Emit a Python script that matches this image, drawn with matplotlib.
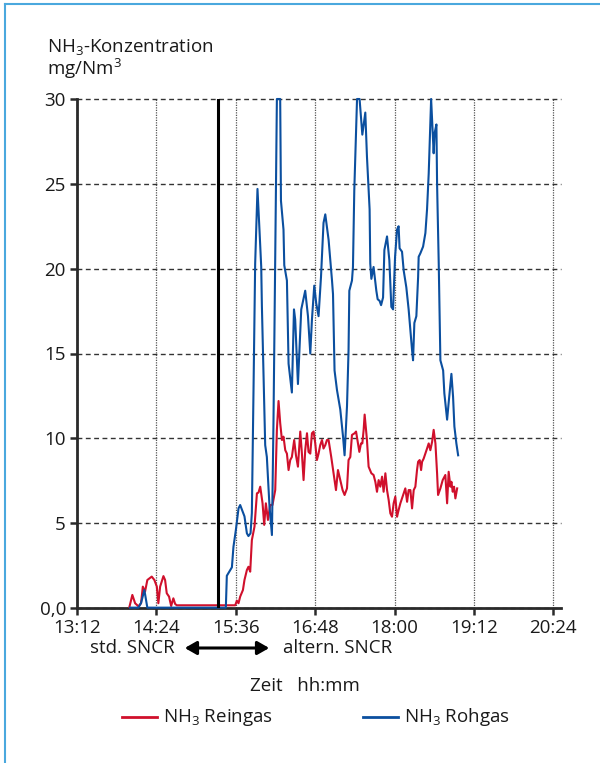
import matplotlib.pyplot as plt
from matplotlib.lines import Line2D
from matplotlib.patches import FancyArrowPatch

plt.rcParams['font.family'] = ['Open Sans', 'DejaVu Sans']
plt.rcParams['mathtext.default'] = 'regular'

# Zeit in Minuten ab 0:00, Konzentration in mg/Nm3
t_rein = [839.5, 842.2, 844.7, 847.7, 850.1, 851.7, 853.7, 855.8, 859.8, 862.2,
          864.4, 865.8, 867.4, 870.4, 871.9, 873.4, 875.5, 877.4, 879.4, 881.0,
          882.5, 935.5, 937.0, 938.5, 940.0, 942.5, 943.9, 946.1, 947.5, 949.1,
          950.6, 953.0, 955.2, 956.6, 958.2, 960.3, 961.8, 963.3, 965.2, 967.2,
          969.3, 971.8, 973.3, 974.8, 976.3, 977.9, 979.3, 980.9, 982.4, 983.9,
          985.4, 986.9, 989.0, 990.6, 992.4, 994.5, 996.0, 997.5, 999.0, 1000.6,
          1002.0, 1003.6, 1005.1, 1006.6, 1008.1, 1009.6, 1011.1, 1012.6, 1014.2, 1015.6,
          1017.2, 1018.7, 1020.2, 1022.6, 1024.7, 1026.9, 1028.7, 1030.8, 1032.9, 1034.7,
          1036.9, 1038.3, 1039.9, 1041.4, 1043.8, 1045.1, 1046.9, 1048.1, 1049.6, 1050.8,
          1052.0, 1052.9, 1055.0, 1056.5, 1059.0, 1061.0, 1062.6, 1064.1, 1065.6, 1067.1,
          1068.7, 1070.1, 1071.7, 1073.2, 1074.7, 1076.2, 1077.7, 1079.2, 1080.7, 1082.3,
          1083.7, 1085.3, 1088.3, 1089.8, 1091.4, 1092.8, 1094.4, 1095.9, 1097.4, 1098.9,
          1100.4, 1101.4, 1102.8, 1104.1, 1105.0, 1106.4, 1108.0, 1109.5, 1111.0, 1112.5,
          1114.1, 1115.5, 1117.1, 1118.6, 1119.5, 1121.6, 1123.7, 1126.1, 1127.7, 1129.1,
          1130.7, 1131.6, 1132.8, 1134.0, 1135.2, 1136.8]
rein = [0.05, 0.77, 0.28, 0.1, 0.28, 1.26, 0.96, 1.65, 1.85, 1.65,
        1.26, 0.28, 1.26, 1.88, 1.65, 0.87, 0.67, 0.12, 0.57, 0.24,
        0.16, 0.16, 0.43, 0.28, 0.67, 1.06, 1.65, 2.24, 2.43, 2.14,
        4.0, 4.8, 6.76, 6.8, 7.15, 6.17, 4.9, 6.17, 5.19, 6.07,
        6.07, 6.95, 10.5, 12.2, 10.9, 9.9, 10.1, 9.3, 9.1, 8.13,
        8.72, 8.9, 9.9, 9.0, 8.33, 10.4, 9.1, 7.54, 9.3, 10.3,
        9.2, 9.1, 10.3, 10.4, 9.7, 8.72, 9.1, 9.6, 9.9, 9.4,
        9.6, 9.9, 9.9, 8.9, 7.94, 6.95, 8.13, 7.54, 6.95, 6.66,
        7.05, 8.72, 8.9, 10.2, 10.3, 10.4, 9.7, 9.2, 9.7, 9.7,
        10.5, 11.4, 9.9, 8.33, 7.94, 7.84, 7.44, 6.85, 7.54, 7.15,
        7.74, 6.85, 7.94, 6.95, 6.36, 5.58, 5.38, 6.17, 6.56, 5.38,
        5.77, 6.17, 6.76, 7.05, 6.26, 6.95, 6.95, 5.87, 6.95, 7.15,
        8.13, 8.62, 8.72, 8.13, 8.62, 8.8, 9.1, 9.4, 9.7, 9.3,
        9.8, 10.5, 9.7, 7.94, 6.66, 7.05, 7.54, 7.84, 6.17, 8.03,
        7.15, 7.44, 6.85, 7.15, 6.46, 7.05]

t_roh = [840.1, 847.7, 850.1, 853.1, 855.8, 927.0, 927.9, 932.5, 933.9, 936.1,
         938.5, 940.0, 943.9, 946.1, 947.5, 949.4, 950.6, 952.1, 953.6, 955.7,
         957.5, 959.1, 959.7, 962.7, 964.2, 966.6, 968.8, 970.2, 971.8, 973.3,
         976.3, 977.0, 979.3, 980.0, 982.4, 983.9, 986.9, 988.8, 989.9, 992.4,
         995.4, 999.0, 1001.5, 1003.6, 1005.1, 1007.2, 1009.0, 1011.1, 1013.3, 1015.6,
         1017.2, 1020.2, 1023.3, 1024.2, 1025.6, 1027.8, 1030.8, 1033.3, 1034.7, 1036.9,
         1038.3, 1039.0, 1041.4, 1042.3, 1043.5, 1046.0, 1048.3, 1050.8, 1053.5, 1055.0,
         1057.4, 1058.0, 1059.0, 1061.0, 1063.5, 1064.7, 1066.5, 1067.8, 1069.6, 1070.8,
         1073.2, 1075.3, 1077.1, 1078.7, 1080.5, 1082.3, 1083.7, 1084.6, 1086.8, 1088.3,
         1090.7, 1092.8, 1095.9, 1096.8, 1098.0, 1099.8, 1101.4, 1101.9, 1103.4, 1105.9,
         1108.0, 1109.5, 1111.0, 1113.2, 1115.5, 1116.4, 1118.0, 1118.6, 1120.1, 1121.6,
         1124.1, 1125.2, 1127.7, 1129.1, 1131.6, 1133.1, 1134.3, 1136.1, 1137.7]
roh = [0.02, 0.02, 0.3, 1.06, 0.02, 0.02, 1.9, 2.4, 3.6, 4.6,
       5.87, 6.07, 5.4, 4.4, 4.24, 4.4, 5.6, 12.85, 20.3, 24.7,
       22.3, 20.1, 17.8, 9.6, 8.9, 6.0, 4.3, 10.9, 20.7, 30.0,
       30.0, 24.0, 22.3, 20.2, 19.3, 14.4, 12.7, 17.6, 17.0, 13.2,
       17.6, 18.7, 17.2, 15.0, 17.0, 19.0, 17.95, 17.2, 19.5, 22.7,
       23.2, 21.7, 19.3, 18.5, 14.0, 12.85, 11.7, 10.1, 9.0, 11.9,
       15.2, 18.7, 19.3, 20.1, 24.6, 30.0, 30.0, 27.9, 29.2, 26.6,
       23.5, 20.3, 19.4, 20.1, 18.7, 18.2, 18.1, 17.85, 18.3, 21.1,
       21.9, 20.5, 17.75, 17.6, 20.7, 22.3, 22.5, 21.2, 21.0, 19.9,
       18.9, 17.6, 15.2, 14.6, 16.8, 17.2, 19.5, 20.7, 20.9, 21.3,
       22.1, 23.5, 25.6, 30.0, 26.8, 28.0, 28.5, 25.0, 20.3, 14.6,
       14.0, 12.65, 11.1, 12.1, 13.8, 12.45, 10.7, 9.7, 9.0]

t_umschalt = 920  # 15:20 Umstellung std. -> altern. SNCR
x_ticks = [792, 864, 936, 1008, 1080, 1152, 1224]
x_labels = ['13:12', '14:24', '15:36', '16:48', '18:00', '19:12', '20:24']
y_ticks = [0, 5, 10, 15, 20, 25, 30]
y_labels = ['0,0', '5', '10', '15', '20', '25', '30']

ROT = '#d0102c'
BLAU = '#0b4f9f'
TEXT = '#1a1a1a'
FS = 13.5
W, H = 600, 763

fig = plt.figure(figsize=(W / 100, H / 100), dpi=100)
ax = fig.add_axes([77 / W, 1 - 608 / H, (561 - 77) / W, (608 - 99) / H])

ax.plot(t_rein, rein, color=ROT, lw=1.5, clip_on=False, zorder=3)
ax.plot(t_roh, roh, color=BLAU, lw=1.5, clip_on=False, zorder=4)
ax.axvline(t_umschalt, color='k', lw=2.2, zorder=5)

ax.set_xlim(792, 1231)
ax.set_ylim(0, 30)
ax.set_xticks(x_ticks)
ax.set_xticklabels(x_labels)
ax.set_yticks(y_ticks)
ax.set_yticklabels(y_labels)

# Gitter: waagerecht gestrichelt, senkrecht gepunktet
ax.grid(axis='y', color='#333333', lw=1.0, ls=(0, (3.5, 2.5)))
ax.grid(axis='x', color='#555555', lw=0.9, ls=(0, (1, 1)))
for gl in ax.get_ygridlines() + ax.get_xgridlines():
    gl.set_clip_on(False)

for s in ['top', 'right']:
    ax.spines[s].set_visible(False)
for s in ['left', 'bottom']:
    ax.spines[s].set_linewidth(2.0)
    ax.spines[s].set_color('#2a2a2a')
ax.tick_params(axis='both', direction='out', width=1.8, length=5,
               color='#2a2a2a', labelsize=FS, labelcolor=TEXT, pad=3)

def fx(x):
    return x / W

def fy(y):
    return 1 - y / H

fig.text(fx(47), fy(47), 'NH$_3$-Konzentration', fontsize=FS, va='center', color=TEXT)
fig.text(fx(47), fy(69), 'mg/Nm$^3$', fontsize=FS, va='center', color=TEXT)

fig.text(fx(175), fy(648), 'std. SNCR', fontsize=FS, ha='right', va='center', color=TEXT)
fig.text(fx(283), fy(648), 'altern. SNCR', fontsize=FS, ha='left', va='center', color=TEXT)
fig.add_artist(FancyArrowPatch(
    (fx(182), fy(648)), (fx(272), fy(648)), transform=fig.transFigure,
    arrowstyle='<|-|>,head_length=7,head_width=4', color='k', lw=2.2))

fig.text(fx(305), fy(686), 'Zeit   hh:mm', fontsize=FS, ha='center', va='center', color=TEXT)

# Legende
fig.add_artist(Line2D([fx(122), fx(157)], [fy(717), fy(717)], color=ROT, lw=2))
fig.text(fx(163), fy(717), 'NH$_3$ Reingas', fontsize=FS, va='center', color=TEXT)
fig.add_artist(Line2D([fx(363), fx(398)], [fy(717), fy(717)], color=BLAU, lw=2))
fig.text(fx(404), fy(717), 'NH$_3$ Rohgas', fontsize=FS, va='center', color=TEXT)

# Rahmen oben und links
fig.add_artist(Line2D([fx(5), 1], [fy(4), fy(4)], color='#4aa8de', lw=1.5))
fig.add_artist(Line2D([fx(5), fx(5)], [fy(4), 0], color='#4aa8de', lw=1.5))

fig.savefig('out.png', dpi=100)
